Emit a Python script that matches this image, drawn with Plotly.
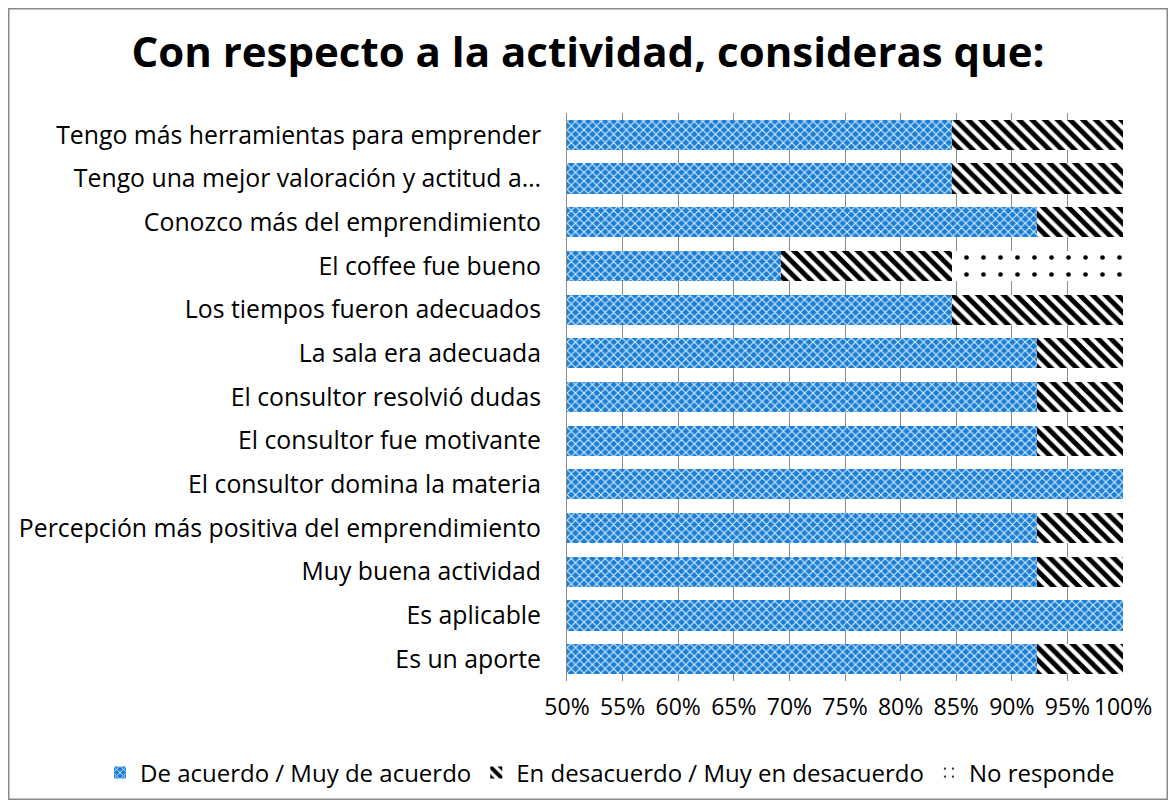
import plotly.graph_objects as go

categories = [
    "Tengo más herramientas para emprender",
    "Tengo una mejor valoración y actitud a…",
    "Conozco más del emprendimiento",
    "El coffee fue bueno",
    "Los tiempos fueron adecuados",
    "La sala era adecuada",
    "El consultor resolvió dudas",
    "El consultor fue motivante",
    "El consultor domina la materia",
    "Percepción más positiva del emprendimiento",
    "Muy buena actividad",
    "Es aplicable",
    "Es un aporte",
]
de_acuerdo = [0.846, 0.846, 0.923, 0.692, 0.846, 0.923, 0.923, 0.923, 1.0, 0.923, 0.923, 1.0, 0.923]
en_desacuerdo = [0.154, 0.154, 0.077, 0.154, 0.154, 0.077, 0.077, 0.077, 0.0, 0.077, 0.077, 0.0, 0.077]
no_responde = [0.0, 0.0, 0.0, 0.154, 0.0, 0.0, 0.0, 0.0, 0.0, 0.0, 0.0, 0.0, 0.0]
tick_vals = [0.5, 0.55, 0.6, 0.65, 0.7, 0.75, 0.8, 0.85, 0.9, 0.95, 1.0]

FONT = "Open Sans"
W, H = 1160, 792
L, R, T, B = 559, 45, 105, 119
PW, PH = W - L - R, H - T - B

fig = go.Figure()
fig.add_trace(go.Bar(
    y=categories, x=de_acuerdo, orientation="h", name="De acuerdo / Muy de acuerdo",
    marker=dict(color="#1a7fd4", line=dict(width=0),
                pattern=dict(shape="x", fgcolor="#d6eafc", bgcolor="#1a7fd4", size=6,
                             solidity=0.35, fgopacity=1)),
))
fig.add_trace(go.Bar(
    y=categories, x=en_desacuerdo, orientation="h", name="En desacuerdo / Muy en desacuerdo",
    marker=dict(color="white", line=dict(width=0),
                pattern=dict(shape="\\", fgcolor="#000000", bgcolor="white", size=9,
                             solidity=0.55, fgopacity=1)),
))
fig.add_trace(go.Bar(
    y=categories, x=no_responde, orientation="h", name="No responde",
    marker=dict(color="white", line=dict(width=0),
                pattern=dict(shape=".", fgcolor="#000000", bgcolor="white", size=17,
                             solidity=0.06, fgopacity=1)),
))

fig.update_layout(
    barmode="stack",
    bargap=0.31,
    width=W, height=H,
    paper_bgcolor="white", plot_bgcolor="white",
    font=dict(family=FONT, size=24, color="black"),
    title=dict(text="<b>Con respecto a la actividad, consideras que:</b>",
               x=0.5, xref="container", y=1 - 44 / H, yanchor="middle",
               font=dict(family=FONT, size=42, color="black")),
    margin=dict(l=L, r=R, t=T, b=B, autoexpand=False),
    xaxis=dict(range=[0.5, 1.0], tickvals=tick_vals, tickformat=".0%",
               showgrid=True, gridcolor="#8a8a8a", gridwidth=1,
               showline=False, zeroline=False, ticks="", tickangle=0,
               tickfont=dict(size=23), ticklabelstandoff=10),
    yaxis=dict(autorange="reversed", showline=True, linecolor="#8a8a8a", linewidth=1,
               ticks="", ticklabelstandoff=20, tickfont=dict(size=24.8)),
    legend=dict(orientation="h", x=(92 - L) / PW, xref="paper", xanchor="left",
                y=-(773 - 681) / PH, yref="paper", yanchor="middle",
                font=dict(size=24), traceorder="normal", itemwidth=30),
    showlegend=True,
)

fig.add_shape(type="rect", xref="paper", yref="paper",
              x0=(-L + 0.75) / PW, x1=(W - L - 0.75) / PW,
              y0=(-B + 0.75) / PH, y1=(PH + T - 0.75) / PH,
              line=dict(color="#8a8a8a", width=1.5), layer="below")

fig.write_html("out.html")
